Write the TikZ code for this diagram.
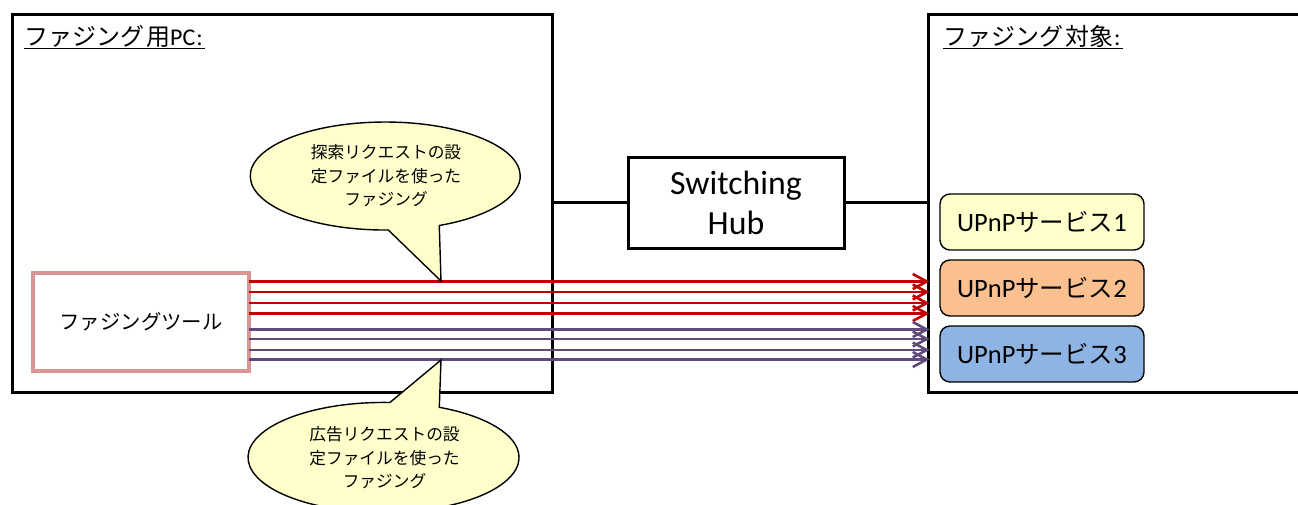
\documentclass[tikz,border=0pt]{standalone}
\usepackage{fontspec}
\setmainfont{Carlito}
\newfontfamily\cjk{Noto Sans CJK JP}
\newcommand{\J}[1]{{\cjk #1}}
\newcommand{\Js}[1]{{\fontsize{24.5}{28}\selectfont\cjk #1}}
\usetikzlibrary{arrows.meta,shapes.geometric}
\definecolor{calloutfill}{HTML}{FFFFCC}
\definecolor{svcB}{HTML}{FAC090}
\definecolor{svcC}{HTML}{8EB4E3}
\definecolor{toolpink}{HTML}{D99694}
\definecolor{arrowred}{HTML}{C00000}
\definecolor{arrowpurple}{HTML}{604A7B}
\tikzset{
  bigbox/.style={draw=black,line width=3pt,outer sep=0pt,minimum width=#1,minimum height=378pt,inner sep=0pt,anchor=north west},
  hubbox/.style={draw=black,line width=3pt,outer sep=0pt,minimum width=216pt,minimum height=91pt,align=center,inner sep=0pt,font=\fontsize{33.8}{40}\selectfont},
  svc/.style={draw=black,line width=1.4pt,rounded corners=10pt,minimum width=204pt,minimum height=56pt,inner sep=0pt,font=\fontsize{26.5}{28}\selectfont},
  toolbox/.style={draw=toolpink,line width=4pt,outer sep=0pt,minimum width=216pt,minimum height=98pt,inner sep=0pt,font=\fontsize{20.4}{28}\selectfont},
  title/.style={anchor=west,inner sep=0pt,font=\fontsize{24}{28}\selectfont},
  callout/.style={draw=black,fill=calloutfill,line width=1.4pt,line join=miter},
  callouttext/.style={align=center,inner sep=0pt,font=\fontsize{16.7}{23.4}\selectfont\cjk},
  link/.style={draw=black,line width=2.6pt},
  redarrow/.style={draw=arrowred,line width=2.6pt,shorten >=-1.5pt,-{Straight Barb[length=14pt,width=15pt,line width=2.6pt]}},
  purplearrow/.style={draw=arrowpurple,line width=2.6pt,shorten >=-1.5pt,-{Straight Barb[length=14pt,width=15pt,line width=2.6pt]}},
}
\begin{document}
\begin{tikzpicture}[x=1pt,y=-1pt]
\useasboundingbox (0,0) rectangle (1298,504);
\clip (0,0) rectangle (1298,504);
\node[bigbox=540pt] (pc) at (12,14) {};
\node[bigbox=400pt] (target) at (928,14) {};
\node[title] (pctitle) at (24,37) {\underline{\J{ファジング}\hspace{2pt}\J{用}PC\hspace{1pt}:\hspace{2pt}}};
\node[title] (targettitle) at (943,37) {\underline{\J{ファジング}\hspace{2pt}\J{対象}\hspace{1pt}:\hspace{2pt}}};
\node[hubbox] (hub) at (736,202.5) {Switching\\Hub};
\draw[link] (pc.east |- hub.west) -- (hub.west);
\draw[link] (hub.east) -- (target.west |- hub.east);
\node[svc,fill=calloutfill] (s1) at (1042,222) {UPnP\Js{サービス}1};
\node[svc,fill=svcB] (s2) at (1042,288) {UPnP\Js{サービス}2};
\node[svc,fill=svcC] (s3) at (1042,354) {UPnP\Js{サービス}3};
\node[toolbox] (tool) at (141,322) {\J{ファジングツール}};
\foreach \y in {281.5,292,303,313.5} \draw[redarrow] (tool.east |- 0,\y) -- (target.west |- 0,\y);
\foreach \y in {329.5,339,350,359.5} \draw[purplearrow] (tool.east |- 0,\y) -- (target.west |- 0,\y);
\coordinate (tiptop) at (441,281);
\coordinate (tipbot) at (441,360);
\draw[callout] (tiptop) -- (388.3,230) arc[start angle=88.7,end angle=426.4,x radius=135,y radius=54] -- cycle;
\draw[callout] (tipbot) -- (439.3,407.3) arc[start angle=294.3,end angle=632.7,x radius=135.5,y radius=55] -- cycle;
\node[callouttext] (c1) at (386,176) {探索リクエストの設\\定ファイルを使った\\ファジング};
\node[callouttext] (c2) at (384.5,458) {広告リクエストの設\\定ファイルを使った\\ファジング};
\end{tikzpicture}
\end{document}
